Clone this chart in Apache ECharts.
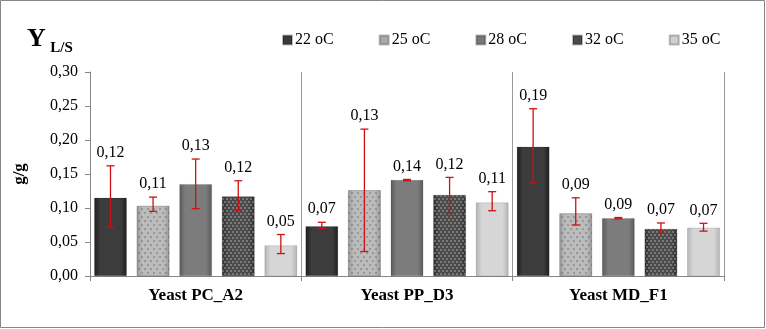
<!DOCTYPE html>
<html>
<head>
<meta charset="utf-8">
<script src="https://cdn.jsdelivr.net/npm/echarts@6/dist/echarts.min.js"></script>
<style>html,body{margin:0;padding:0;background:#fff}#c{width:766px;height:329px}</style>
</head>
<body>
<div id="c"></div>
<script>
var categories = ['Yeast PC_A2', 'Yeast PP_D3', 'Yeast MD_F1'];
var seriesNames = ['22 oC', '25 oC', '28 oC', '32 oC', '35 oC'];
// bar heights per temperature (one value per yeast)
var v22 = [0.115, 0.073, 0.190];
var v25 = [0.103, 0.126, 0.092];
var v28 = [0.135, 0.141, 0.085];
var v32 = [0.117, 0.119, 0.069];
var v35 = [0.045, 0.108, 0.071];
// error bar low / high
var lo22 = [0.072, 0.070, 0.137], hi22 = [0.162, 0.079, 0.246];
var lo25 = [0.095, 0.036, 0.075], hi25 = [0.116, 0.216, 0.115];
var lo28 = [0.099, 0.140, 0.084], hi28 = [0.172, 0.142, 0.086];
var lo32 = [0.096, 0.092, 0.063], hi32 = [0.140, 0.145, 0.078];
var lo35 = [0.033, 0.096, 0.066], hi35 = [0.061, 0.124, 0.0775];
// value labels as printed
var lab22 = ['0,12', '0,07', '0,19'];
var lab25 = ['0,11', '0,13', '0,09'];
var lab28 = ['0,13', '0,14', '0,09'];
var lab32 = ['0,12', '0,12', '0,07'];
var lab35 = ['0,05', '0,11', '0,07'];
var yTicks = {min: 0, max: 0.30, interval: 0.05};

var values = [v22, v25, v28, v32, v35];
var lows = [lo22, lo25, lo28, lo32, lo35];
var highs = [hi22, hi25, hi28, hi32, hi35];
var labels = [lab22, lab25, lab28, lab32, lab35];

var FONT = 'Liberation Serif';
var CAT_GAP = 0.04, BAR_GAP = 0.31;

function bevel(edge, mid) {
  return {type: 'linear', x: 0, y: 0, x2: 1, y2: 0, colorStops: [
    {offset: 0, color: edge}, {offset: 0.18, color: mid}, {offset: 0.82, color: mid}, {offset: 1, color: edge}]};
}
var styles = [
  {color: bevel('#1e1e1e', '#3c3c3c'), legend: '#3a3a3a'},
  {color: bevel('#9a9a9a', '#bcbcbc'), legend: '#aaaaaa',
   decal: {symbol: 'circle', symbolSize: 0.7, color: 'rgba(50,50,50,0.7)', dashArrayX: [[2, 4], [0, 3, 2, 1]], dashArrayY: [2, 2], rotation: 0}},
  {color: bevel('#5a5a5a', '#7c7c7c'), legend: '#777777'},
  {color: bevel('#2e2e2e', '#4a4a4a'), legend: '#4a4a4a',
   decal: {symbol: 'circle', symbolSize: 0.8, color: 'rgba(220,220,220,0.75)', dashArrayX: [[2, 2], [0, 2, 2, 0]], dashArrayY: [2, 1], rotation: 0}},
  {color: bevel('#b4b4b4', '#d6d6d6'), legend: '#d0d0d0'}
];

var series = [];
seriesNames.forEach(function (name, i) {
  var st = {color: styles[i].color, borderColor: 'rgba(0,0,0,0.25)', borderWidth: 0.5};
  if (styles[i].decal) st.decal = styles[i].decal;
  series.push({
    name: name, type: 'bar', data: values[i],
    barGap: (BAR_GAP * 100) + '%', barCategoryGap: (CAT_GAP * 100) + '%',
    itemStyle: st, z: 2
  });
});

// error bars + labels
var errData = [];
for (var i = 0; i < 5; i++) for (var j = 0; j < 3; j++) errData.push([j, lows[i][j], highs[i][j], i, labels[i][j]]);
series.push({
  type: 'custom', z: 5, silent: true,
  data: errData,
  encode: {x: 0, y: [1, 2]},
  renderItem: function (params, api) {
    var cat = api.value(0), lo = api.value(1), hi = api.value(2), idx = api.value(3);
    var band = api.size([1, 0])[0];
    var remained = band * (1 - CAT_GAP);
    var bw = remained / (5 + 4 * BAR_GAP);
    var total = 5 * bw + 4 * bw * BAR_GAP;
    var c = api.coord([cat, 0]);
    var x = c[0] - total / 2 + bw / 2 + idx * bw * (1 + BAR_GAP);
    var yLo = api.coord([cat, lo])[1], yHi = api.coord([cat, hi])[1];
    var cap = 4;
    var stroke = {stroke: '#d01010', lineWidth: 1.3};
    var txt = errData[params.dataIndex][4];
    return {type: 'group', children: [
      {type: 'line', shape: {x1: x, y1: yLo, x2: x, y2: yHi}, style: stroke},
      {type: 'line', shape: {x1: x - cap, y1: yLo, x2: x + cap, y2: yLo}, style: stroke},
      {type: 'line', shape: {x1: x - cap, y1: yHi, x2: x + cap, y2: yHi}, style: stroke},
      {type: 'text', x: x, y: yHi - 5, style: {text: txt, fill: '#000', font: '16px ' + FONT, textAlign: 'center', textVerticalAlign: 'bottom'}}
    ]};
  }
});

var chart = echarts.init(document.getElementById('c'));
chart.setOption({
  animation: false,
  backgroundColor: '#fff',
  textStyle: {fontFamily: FONT},
  title: {
    text: '{y|Y} {s|L/S}', left: 22, top: 21,
    textStyle: {rich: {
      y: {fontFamily: FONT, fontSize: 26, fontWeight: 'bold', color: '#000', verticalAlign: 'bottom'},
      s: {fontFamily: FONT, fontSize: 15, fontWeight: 'bold', color: '#000', verticalAlign: 'bottom', padding: [0, 0, -4, 0]}
    }}
  },
  legend: {
    data: seriesNames.map(function (n, i) { return {name: n, itemStyle: {color: styles[i].legend, decal: 'none'}}; }),
    left: 277, top: 27, itemWidth: 9, itemHeight: 9, itemGap: 45, icon: 'rect',
    textStyle: {fontFamily: FONT, fontSize: 16, color: '#000', padding: [0, 0, 0, -2]}
  },
  grid: {left: 90, right: 42, top: 72, bottom: 53},
  xAxis: {
    type: 'category', data: categories,
    axisLine: {lineStyle: {color: '#868686'}},
    axisTick: {show: true, length: 5, interval: 0, lineStyle: {color: '#868686'}},
    splitLine: {show: true, interval: 0, lineStyle: {color: '#9a9a9a', width: 1}},
    axisLabel: {fontFamily: FONT, fontSize: 17, fontWeight: 'bold', color: '#000', margin: 11}
  },
  yAxis: {
    type: 'value', min: yTicks.min, max: yTicks.max, interval: yTicks.interval,
    name: 'g/g', nameLocation: 'middle', nameGap: 62,
    nameTextStyle: {fontFamily: FONT, fontSize: 17, fontWeight: 'bold', color: '#000'},
    axisLine: {show: true, lineStyle: {color: '#868686'}},
    axisTick: {show: true, length: 5, lineStyle: {color: '#868686'}},
    splitLine: {show: false},
    axisLabel: {fontFamily: FONT, fontSize: 16, color: '#000', margin: 12,
      formatter: function (v) { return v.toFixed(2).replace('.', ','); }}
  },
  graphic: [{type: 'rect', shape: {x: 0.5, y: 0.5, width: 764, height: 327}, style: {fill: 'none', stroke: '#868686', lineWidth: 1}, silent: true}],
  series: series
});
</script>
</body>
</html>
